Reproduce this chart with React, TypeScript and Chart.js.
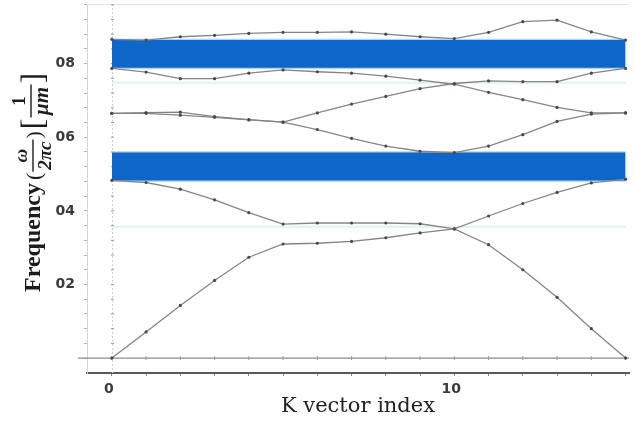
import React, { useEffect, useRef } from 'react';
import { Chart, registerables } from 'chart.js';

Chart.register(...registerables);

// ---- data ----
const kIndex = [0, 1, 2, 3, 4, 5, 6, 7, 8, 9, 10, 11, 12, 13, 14, 15];

const band1 = [0, 0.071, 0.143, 0.211, 0.274, 0.31, 0.312, 0.317, 0.327, 0.34, 0.351, 0.308, 0.24, 0.165, 0.08, 0];
const band2 = [0.483, 0.477, 0.459, 0.43, 0.395, 0.364, 0.367, 0.367, 0.367, 0.365, 0.351, 0.386, 0.42, 0.45, 0.476, 0.486];
const band3 = [0.665, 0.665, 0.66, 0.654, 0.647, 0.641, 0.621, 0.597, 0.576, 0.562, 0.558, 0.576, 0.607, 0.643, 0.663, 0.666];
const band4 = [0.665, 0.667, 0.668, 0.656, 0.648, 0.641, 0.666, 0.69, 0.711, 0.732, 0.746, 0.753, 0.751, 0.751, 0.774, 0.787];
const band5 = [0.787, 0.777, 0.759, 0.759, 0.774, 0.783, 0.778, 0.774, 0.766, 0.755, 0.744, 0.722, 0.702, 0.681, 0.666, 0.666];
const band6 = [0.866, 0.864, 0.873, 0.877, 0.882, 0.885, 0.885, 0.886, 0.88, 0.873, 0.868, 0.885, 0.914, 0.918, 0.886, 0.864];
const bands = [band1, band2, band3, band4, band5, band6];

const gapLower = [0.481, 0.56];
const gapUpper = [0.787, 0.866];
const gaps = [gapLower, gapUpper];

const faintLevels = [0.357, 0.748];

const yTickValues = [0.2, 0.4, 0.6, 0.8];
const yTickLabels = ['02', '04', '06', '08'];
const yMinorStep = 0.04;
const xTickValues = [0, 10];
const xTickLabels = ['0', '10'];

const xTitle = 'K vector index';
const yTitleWord = 'Frequency';
const yTitleFrac1 = ['ω', '2πc'];
const yTitleFrac2 = ['1', 'μm'];

export default function App() {
  const canvasRef = useRef<HTMLCanvasElement>(null);

  useEffect(() => {
    document.body.style.margin = '0';
    const canvas = canvasRef.current;
    if (!canvas) return;

    const first = kIndex[0];
    const last = kIndex[kIndex.length - 1];
    const datasets: any[] = [];

    gaps.forEach(([lo, hi]) => {
      const topIdx = datasets.length;
      datasets.push({
        data: [{ x: first, y: hi }, { x: last, y: hi }],
        borderColor: '#a9d4f3',
        borderWidth: 1.2,
        pointRadius: 0,
        fill: false,
        order: 10,
      });
      datasets.push({
        data: [{ x: first, y: lo }, { x: last, y: lo }],
        borderColor: '#a9d4f3',
        borderWidth: 1.2,
        pointRadius: 0,
        fill: { target: topIdx },
        backgroundColor: '#0f66c9',
        order: 10,
      });
    });

    faintLevels.forEach((lv) => {
      datasets.push({
        data: [{ x: first, y: lv }, { x: last, y: lv }],
        borderColor: 'rgba(200,230,245,0.55)',
        borderWidth: 2,
        pointRadius: 0,
        fill: false,
        order: 9,
      });
    });

    bands.forEach((b) => {
      datasets.push({
        data: b.map((y, i) => ({ x: kIndex[i], y })),
        borderColor: '#858585',
        borderWidth: 1.3,
        pointRadius: 1.6,
        pointBackgroundColor: '#4a4a4a',
        pointBorderWidth: 0,
        tension: 0,
        fill: false,
        order: 1,
      });
    });

    const decor = {
      id: 'decor',
      beforeDatasetsDraw(chart: any) {
        const { ctx, chartArea, scales } = chart;
        const xs = scales.x;
        const ys = scales.y;
        ctx.save();
        // faint top border
        ctx.strokeStyle = '#e4e4e4';
        ctx.lineWidth = 1;
        ctx.beginPath();
        ctx.moveTo(chartArea.left, chartArea.top + 0.5);
        ctx.lineTo(chartArea.right, chartArea.top + 0.5);
        ctx.stroke();
        // x = 0 dotted axis
        const x0 = Math.round(xs.getPixelForValue(0)) + 0.5;
        ctx.strokeStyle = '#cfcfcf';
        ctx.setLineDash([2, 2]);
        ctx.beginPath();
        ctx.moveTo(x0, chartArea.top);
        ctx.lineTo(x0, chartArea.bottom);
        ctx.stroke();
        ctx.setLineDash([]);
        ctx.strokeStyle = '#9a9a9a';
        ys.ticks.forEach((t: any) => {
          const py = ys.getPixelForValue(t.value);
          ctx.beginPath();
          ctx.moveTo(x0 - 1.5, py);
          ctx.lineTo(x0 + 1.5, py);
          ctx.stroke();
        });
        // y = 0 axis line
        const y0 = ys.getPixelForValue(0);
        ctx.strokeStyle = '#8c8c8c';
        ctx.lineWidth = 1.4;
        ctx.beginPath();
        ctx.moveTo(chartArea.left - 9, y0);
        ctx.lineTo(chartArea.right, y0);
        ctx.stroke();
        ctx.strokeStyle = '#9a9a9a';
        ctx.lineWidth = 1;
        kIndex.forEach((k) => {
          const px = xs.getPixelForValue(k);
          ctx.beginPath();
          ctx.moveTo(px, y0 - 2);
          ctx.lineTo(px, y0 + 2);
          ctx.stroke();
        });
        ctx.restore();
      },
      afterDraw(chart: any) {
        const { ctx } = chart;
        ctx.save();
        ctx.fillStyle = '#1c1c1c';
        ctx.strokeStyle = '#1c1c1c';
        ctx.font = 'bold 24px "Liberation Serif"';
        const wWord = ctx.measureText(yTitleWord).width;
        ctx.translate(40, 292);
        ctx.rotate(-Math.PI / 2);
        ctx.textBaseline = 'alphabetic';
        ctx.textAlign = 'left';
        ctx.fillText(yTitleWord, 0, 0);
        let a = wWord + 3;
        // "("
        ctx.font = '22px "Liberation Serif"';
        ctx.fillText('(', a, 1);
        a += ctx.measureText('(').width + 1;
        // fraction 1
        ctx.font = 'italic bold 19px "Liberation Serif"';
        const n1 = ctx.measureText(yTitleFrac1[0]).width;
        const d1 = ctx.measureText(yTitleFrac1[1]).width;
        const f1w = Math.max(n1, d1) + 4;
        ctx.textAlign = 'center';
        ctx.fillText(yTitleFrac1[0], a + f1w / 2, -13);
        ctx.fillText(yTitleFrac1[1], a + f1w / 2, 11);
        ctx.lineWidth = 1.4;
        ctx.beginPath();
        ctx.moveTo(a, -7);
        ctx.lineTo(a + f1w, -7);
        ctx.stroke();
        a += f1w + 1;
        ctx.textAlign = 'left';
        ctx.font = '22px "Liberation Serif"';
        ctx.fillText(')', a, 1);
        a += ctx.measureText(')').width + 2;
        // "[" fraction 2 "]"
        ctx.font = '32px "Liberation Serif"';
        ctx.fillText('[', a, 3);
        a += ctx.measureText('[').width + 1;
        ctx.font = 'bold 19px "Liberation Serif"';
        const n2 = ctx.measureText(yTitleFrac2[0]).width;
        ctx.font = 'italic bold 21px "Liberation Serif"';
        const d2 = ctx.measureText(yTitleFrac2[1]).width;
        const f2w = Math.max(n2, d2) + 5;
        ctx.textAlign = 'center';
        ctx.font = 'bold 19px "Liberation Serif"';
        ctx.fillText(yTitleFrac2[0], a + f2w / 2, -15);
        ctx.font = 'italic bold 21px "Liberation Serif"';
        ctx.fillText(yTitleFrac2[1], a + f2w / 2, 8);
        ctx.beginPath();
        ctx.moveTo(a, -9);
        ctx.lineTo(a + f2w, -9);
        ctx.stroke();
        a += f2w + 1;
        ctx.textAlign = 'left';
        ctx.font = '32px "Liberation Serif"';
        ctx.fillText(']', a, 3);
        ctx.restore();
      },
    };

    const near = (v: number, arr: number[]) => arr.findIndex((t) => Math.abs(t - v) < 1e-6);
    const zeroPad = (s: any) => {
      s.paddingTop = 0;
      s.paddingBottom = 0;
      s.paddingLeft = 0;
      s.paddingRight = 0;
    };

    const chart = new Chart(canvas, {
      type: 'line',
      data: { datasets },
      plugins: [decor],
      options: {
        animation: false,
        responsive: false,
        maintainAspectRatio: false,
        layout: { padding: { top: 2, right: 0, left: 0, bottom: 0 } },
        plugins: { legend: { display: false }, tooltip: { enabled: false } },
        scales: {
          x: {
            type: 'linear',
            min: -0.725,
            max: 15.1,
            afterBuildTicks: (s: any) => {
              s.ticks = kIndex.map((v) => ({ value: v }));
            },
            afterFit: (s: any) => {
              s.height = 55;
              zeroPad(s);
            },
            ticks: {
              autoSkip: false,
              maxRotation: 0,
              padding: 5,
              labelOffset: -3,
              color: '#3a3a3a',
              font: { family: '"DejaVu Sans"', weight: 'bold', size: 14 },
              callback: (v: any) => {
                const i = near(Number(v), xTickValues);
                return i >= 0 ? xTickLabels[i] : '';
              },
            },
            grid: { drawOnChartArea: false, drawTicks: true, tickLength: 3, tickColor: '#8a8a8a' },
            border: { color: '#5a5a5a', width: 2 },
            title: {
              display: true,
              text: xTitle,
              color: '#222',
              font: { family: '"DejaVu Serif"', size: 21 },
              padding: { top: 0, bottom: 9 },
            },
          },
          y: {
            type: 'linear',
            min: -0.0405,
            max: 0.962,
            afterBuildTicks: (s: any) => {
              const out: any[] = [];
              for (let v = 0; v <= 0.961; v += yMinorStep) out.push({ value: Math.round(v * 1000) / 1000 });
              s.ticks = out;
            },
            afterFit: (s: any) => {
              s.width = 87;
              zeroPad(s);
            },
            ticks: {
              autoSkip: false,
              padding: 9,
              color: '#3a3a3a',
              font: { family: '"DejaVu Sans"', weight: 'bold', size: 14 },
              callback: (v: any) => {
                const i = near(Number(v), yTickValues);
                return i >= 0 ? yTickLabels[i] : '';
              },
            },
            grid: { drawOnChartArea: false, drawTicks: true, tickLength: 3, tickColor: '#b5b5b5' },
            border: { color: '#d4d4d4', dash: [2, 2] },
          },
        },
      },
    });

    return () => chart.destroy();
  }, []);

  return (
    <div style={{ width: 633, height: 428, background: '#fff' }}>
      <canvas ref={canvasRef} width={633} height={428} style={{ display: 'block' }} />
    </div>
  );
}
